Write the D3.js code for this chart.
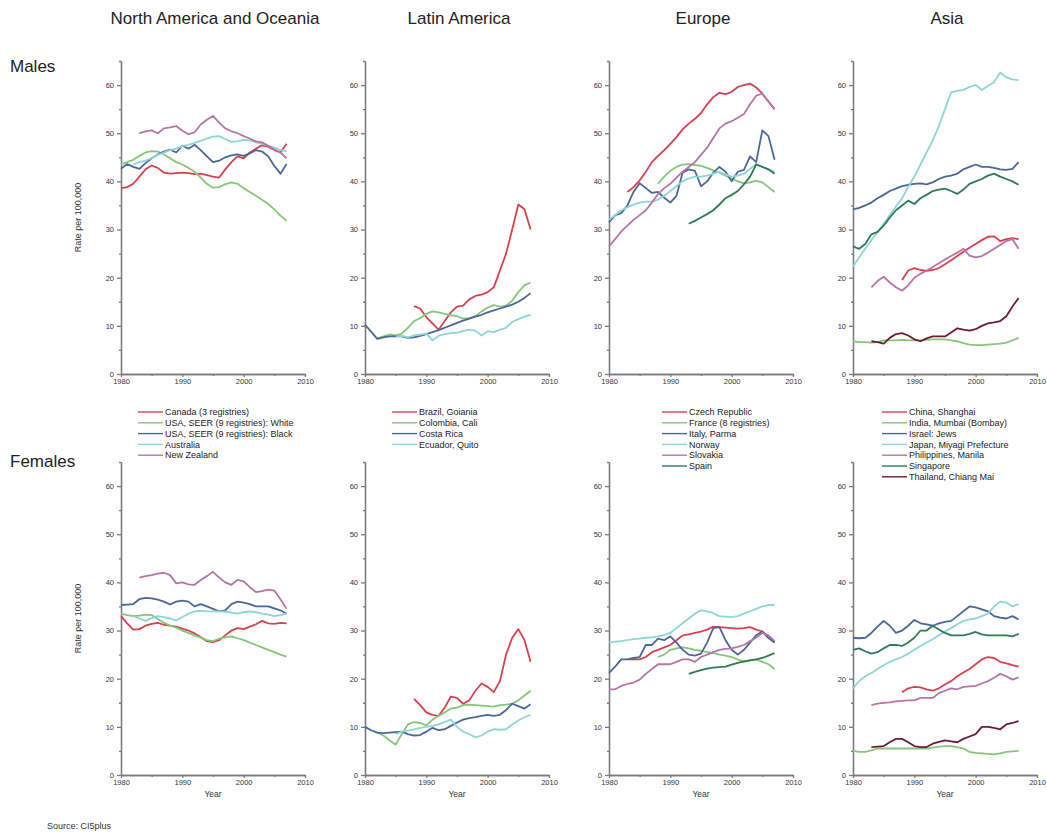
<!DOCTYPE html>
<html>
<head>
<meta charset="utf-8">
<script src="https://cdnjs.cloudflare.com/ajax/libs/d3/7.8.5/d3.min.js"></script>
<style>
body { margin: 0; background: #ffffff; }
svg { font-family: "Liberation Sans", Arial, sans-serif; }
</style>
</head>
<body>
<svg id="chart"></svg>
<script>
var width = 1047;
var height = 833;

// column titles, row labels, legend entries
var regions = ["North America and Oceania", "Latin America", "Europe", "Asia"];
var sexes = ["Males", "Females"];
var namesNA = ["Canada (3 registries)", "USA, SEER (9 registries): White", "USA, SEER (9 registries): Black", "Australia", "New Zealand"];
var namesLA = ["Brazil, Goiania", "Colombia, Cali", "Costa Rica", "Ecuador, Quito"];
var namesEU = ["Czech Republic", "France (8 registries)", "Italy, Parma", "Norway", "Slovakia", "Spain"];
var namesAS = ["China, Shanghai", "India, Mumbai (Bombay)", "Israel: Jews", "Japan, Miyagi Prefecture", "Philippines, Manila", "Singapore", "Thailand, Chiang Mai"];

var xTicks = [1980, 1990, 2000, 2010];
var yTicks = [0, 10, 20, 30, 40, 50, 60];

// ---- Males, [year, rate per 100,000] ----
var canadaM = [[1980,38.6],[1981,38.8],[1982,39.5],[1983,41],[1984,42.5],[1985,43.3],[1986,42.8],[1987,41.8],[1988,41.6],[1989,41.7],[1990,41.8],[1991,41.7],[1992,41.5],[1993,41.6],[1994,41.3],[1995,41],[1996,40.8],[1997,42.5],[1998,44],[1999,45.2],[2000,44.8],[2001,46],[2002,46.8],[2003,47.5],[2004,47.2],[2005,46.5],[2006,46],[2007,47.8]];
var usaWhiteM = [[1980,43.5],[1981,44],[1982,44.5],[1983,45.3],[1984,46],[1985,46.3],[1986,46.2],[1987,45.6],[1988,44.8],[1989,44],[1990,43.5],[1991,42.8],[1992,42],[1993,40.8],[1994,39.5],[1995,38.7],[1996,38.8],[1997,39.4],[1998,39.8],[1999,39.5],[2000,38.6],[2001,37.8],[2002,37],[2003,36.2],[2004,35.3],[2005,34.2],[2006,32.9],[2007,31.8]];
var usaBlackM = [[1980,42.6],[1981,43.6],[1982,43],[1983,42.6],[1984,43.8],[1985,44.8],[1986,45.6],[1987,46.2],[1988,46.6],[1989,46],[1990,47.4],[1991,46.8],[1992,47.6],[1993,46.5],[1994,45.2],[1995,44],[1996,44.3],[1997,45],[1998,45.4],[1999,45.6],[2000,45.3],[2001,45.8],[2002,46.5],[2003,46.2],[2004,45.2],[2005,43.2],[2006,41.6],[2007,43.6]];
var australiaM = [[1982,43.5],[1983,44],[1984,44.3],[1985,44.8],[1986,45.5],[1987,46],[1988,46.5],[1989,46.8],[1990,47.3],[1991,47.6],[1992,48],[1993,48.4],[1994,48.9],[1995,49.3],[1996,49.4],[1997,48.8],[1998,48.2],[1999,48.3],[2000,48.6],[2001,48.5],[2002,48.1],[2003,47.8],[2004,47.4],[2005,47],[2006,46.5],[2007,46.3]];
var nzM = [[1983,50],[1984,50.4],[1985,50.6],[1986,50],[1987,51],[1988,51.2],[1989,51.5],[1990,50.5],[1991,49.8],[1992,50.2],[1993,51.8],[1994,52.8],[1995,53.6],[1996,52.2],[1997,51],[1998,50.4],[1999,50],[2000,49.4],[2001,48.9],[2002,48.3],[2003,48.1],[2004,47.4],[2005,46.6],[2006,46],[2007,44.8]];

var brazilM = [[1988,14.1],[1989,13.6],[1990,11.8],[1991,10.5],[1992,9.2],[1993,11],[1994,12.8],[1995,14],[1996,14.2],[1997,15.5],[1998,16.2],[1999,16.5],[2000,17],[2001,18],[2002,21.5],[2003,25],[2004,30],[2005,35.2],[2006,34.2],[2007,30]];
var colombiaM = [[1982,7.4],[1983,7.8],[1984,8.2],[1985,8],[1986,8.4],[1987,9.6],[1988,11],[1989,11.6],[1990,12.5],[1991,13],[1992,12.8],[1993,12.5],[1994,12.2],[1995,12],[1996,11.5],[1997,11.6],[1998,12],[1999,13],[2000,13.8],[2001,14.3],[2002,14],[2003,14.2],[2004,15.2],[2005,17],[2006,18.4],[2007,19]];
var costaRicaM = [[1980,10.2],[1981,8.8],[1982,7.3],[1983,7.6],[1984,7.8],[1985,7.8],[1986,7.8],[1987,7.5],[1988,7.6],[1989,7.9],[1990,8.3],[1991,8.7],[1992,9.1],[1993,9.6],[1994,10.1],[1995,10.6],[1996,11.1],[1997,11.5],[1998,11.9],[1999,12.3],[2000,12.8],[2001,13.2],[2002,13.6],[2003,14],[2004,14.4],[2005,15],[2006,15.8],[2007,16.8]];
var ecuadorM = [[1985,7.8],[1986,7.9],[1987,7.6],[1988,8],[1989,8.2],[1990,8.4],[1991,7],[1992,7.9],[1993,8.3],[1994,8.5],[1995,8.6],[1996,8.9],[1997,9.2],[1998,9],[1999,8],[2000,8.9],[2001,8.7],[2002,9.2],[2003,9.6],[2004,10.8],[2005,11.4],[2006,11.9],[2007,12.3]];

var czechM = [[1983,37.8],[1984,38.8],[1985,40.2],[1986,42],[1987,44],[1988,45.3],[1989,46.5],[1990,47.8],[1991,49.2],[1992,50.8],[1993,52],[1994,53],[1995,54.2],[1996,56],[1997,57.5],[1998,58.4],[1999,58.1],[2000,58.6],[2001,59.6],[2002,60],[2003,60.3],[2004,59.5],[2005,58.2],[2006,56.6],[2007,55]];
var franceM = [[1988,39.5],[1989,41],[1990,42.2],[1991,43],[1992,43.5],[1993,43.6],[1994,43.4],[1995,43.2],[1996,42.8],[1997,42.3],[1998,41.8],[1999,41.2],[2000,40.6],[2001,40],[2002,39.6],[2003,39.8],[2004,40.1],[2005,39.8],[2006,38.8],[2007,37.8]];
var italyM = [[1980,31.5],[1981,33],[1982,33.4],[1983,35],[1984,37.8],[1985,39.6],[1986,38.6],[1987,37.6],[1988,37.8],[1989,36.6],[1990,35.6],[1991,37],[1992,41.8],[1993,42.5],[1994,42.2],[1995,39],[1996,40],[1997,41.8],[1998,43],[1999,42],[2000,40],[2001,42],[2002,42.4],[2003,45.2],[2004,44],[2005,50.6],[2006,49.4],[2007,44.5]];
var norwayM = [[1980,32],[1981,33],[1982,34],[1983,34.6],[1984,35.2],[1985,35.6],[1986,35.8],[1987,35.8],[1988,36.2],[1989,37],[1990,38],[1991,39],[1992,40],[1993,40.6],[1994,41],[1995,41],[1996,41.2],[1997,41.6],[1998,42],[1999,41.4],[2000,41],[2001,41.2],[2002,41.6],[2003,42.6],[2004,43.6],[2005,43],[2006,42.5],[2007,42]];
var slovakiaM = [[1980,26.5],[1981,28],[1982,29.6],[1983,30.8],[1984,32],[1985,33],[1986,34],[1987,35.6],[1988,37.4],[1989,38.6],[1990,39.5],[1991,40.8],[1992,42],[1993,43],[1994,44],[1995,45.5],[1996,47],[1997,49],[1998,51],[1999,52],[2000,52.5],[2001,53.2],[2002,54],[2003,56],[2004,57.8],[2005,58.2],[2006,56.6],[2007,55]];
var spainM = [[1993,31.2],[1994,31.8],[1995,32.5],[1996,33.2],[1997,34],[1998,35.2],[1999,36.5],[2000,37.2],[2001,38],[2002,39.4],[2003,41],[2004,43.5],[2005,43],[2006,42.5],[2007,41.6]];

var chinaM = [[1988,19.5],[1989,21.5],[1990,22],[1991,21.6],[1992,21.4],[1993,21.6],[1994,22],[1995,22.8],[1996,23.6],[1997,24.5],[1998,25.4],[1999,26.2],[2000,27],[2001,27.8],[2002,28.5],[2003,28.6],[2004,27.6],[2005,28],[2006,28.2],[2007,28]];
var indiaM = [[1980,6.8],[1981,6.6],[1982,6.6],[1983,6.5],[1984,6.6],[1985,7],[1986,7],[1987,7],[1988,7.1],[1989,7],[1990,7],[1991,7],[1992,7.1],[1993,7.2],[1994,7.2],[1995,7.2],[1996,7],[1997,6.8],[1998,6.4],[1999,6.1],[2000,6],[2001,6],[2002,6.1],[2003,6.2],[2004,6.3],[2005,6.5],[2006,7],[2007,7.5]];
var israelM = [[1980,34.2],[1981,34.5],[1982,35],[1983,35.6],[1984,36.5],[1985,37.2],[1986,38],[1987,38.5],[1988,39],[1989,39.3],[1990,39.5],[1991,39.6],[1992,39.4],[1993,39.8],[1994,40.5],[1995,41],[1996,41.2],[1997,41.6],[1998,42.5],[1999,43],[2000,43.5],[2001,43],[2002,43],[2003,42.8],[2004,42.5],[2005,42.4],[2006,42.6],[2007,44]];
var japanM = [[1980,22.3],[1981,24.2],[1982,26],[1983,27.8],[1984,29.5],[1985,31.2],[1986,33],[1987,34.8],[1988,36.5],[1989,38.8],[1990,41],[1991,43.5],[1992,46],[1993,48.5],[1994,51.5],[1995,55],[1996,58.5],[1997,58.8],[1998,59],[1999,59.6],[2000,60],[2001,59],[2002,59.8],[2003,60.6],[2004,62.6],[2005,61.6],[2006,61.2],[2007,61]];
var philippinesM = [[1983,18],[1984,19.3],[1985,20.2],[1986,19],[1987,18],[1988,17.3],[1989,18.4],[1990,20],[1991,20.8],[1992,21.5],[1993,22.2],[1994,23],[1995,23.8],[1996,24.5],[1997,25.2],[1998,26],[1999,24.6],[2000,24.2],[2001,24.5],[2002,25.2],[2003,26],[2004,26.8],[2005,27.6],[2006,28],[2007,26]];
var singaporeM = [[1980,26.5],[1981,26],[1982,27],[1983,29],[1984,29.5],[1985,30.8],[1986,32.5],[1987,34],[1988,35],[1989,36],[1990,35.3],[1991,36.5],[1992,37.2],[1993,38],[1994,38.3],[1995,38.5],[1996,38],[1997,37.4],[1998,38.3],[1999,39.5],[2000,40],[2001,40.5],[2002,41.2],[2003,41.6],[2004,41],[2005,40.5],[2006,40],[2007,39.3]];
var thailandM = [[1983,6.8],[1984,6.6],[1985,6.3],[1986,7.5],[1987,8.3],[1988,8.5],[1989,8],[1990,7.2],[1991,6.8],[1992,7.4],[1993,7.8],[1994,7.8],[1995,7.8],[1996,8.6],[1997,9.5],[1998,9.2],[1999,9],[2000,9.3],[2001,10],[2002,10.5],[2003,10.7],[2004,11],[2005,12],[2006,14],[2007,15.8]];

// ---- Females ----
var canadaF = [[1980,33],[1981,31.5],[1982,30.2],[1983,30.3],[1984,31],[1985,31.4],[1986,31.6],[1987,31.2],[1988,31],[1989,30.8],[1990,30.4],[1991,30],[1992,29.4],[1993,28.6],[1994,27.8],[1995,27.6],[1996,28],[1997,29],[1998,30],[1999,30.5],[2000,30.3],[2001,30.8],[2002,31.3],[2003,32],[2004,31.5],[2005,31.4],[2006,31.6],[2007,31.5]];
var usaWhiteF = [[1980,33.5],[1981,33.2],[1982,33],[1983,33.1],[1984,33.3],[1985,33.2],[1986,32.4],[1987,31.6],[1988,31],[1989,30.6],[1990,30],[1991,29.5],[1992,29],[1993,28.5],[1994,28],[1995,27.8],[1996,28.3],[1997,28.6],[1998,28.8],[1999,28.4],[2000,28],[2001,27.5],[2002,27],[2003,26.5],[2004,26],[2005,25.5],[2006,25],[2007,24.6]];
var usaBlackF = [[1980,35.3],[1981,35.4],[1982,35.5],[1983,36.5],[1984,36.8],[1985,36.7],[1986,36.4],[1987,36],[1988,35.4],[1989,36],[1990,36.2],[1991,36],[1992,35],[1993,35.5],[1994,35],[1995,34.5],[1996,34],[1997,34.2],[1998,35.5],[1999,36],[2000,35.8],[2001,35.5],[2002,35],[2003,35],[2004,35],[2005,34.6],[2006,34.2],[2007,33.5]];
var australiaF = [[1982,33],[1983,32.5],[1984,32],[1985,32.6],[1986,33],[1987,32.8],[1988,32.5],[1989,32.1],[1990,32.8],[1991,33.5],[1992,34],[1993,34.1],[1994,34],[1995,34],[1996,34],[1997,33.9],[1998,33.7],[1999,33.5],[2000,33.8],[2001,34],[2002,33.8],[2003,33.5],[2004,33.3],[2005,33],[2006,33.2],[2007,33.5]];
var nzF = [[1983,41],[1984,41.3],[1985,41.5],[1986,41.8],[1987,42],[1988,41.5],[1989,39.8],[1990,40],[1991,39.6],[1992,39.5],[1993,40.5],[1994,41.3],[1995,42.2],[1996,41],[1997,40],[1998,39.5],[1999,40.5],[2000,40.2],[2001,39],[2002,38],[2003,38.2],[2004,38.5],[2005,38.3],[2006,36.5],[2007,34.5]];

var brazilF = [[1988,15.8],[1989,14.5],[1990,13],[1991,12.5],[1992,12.3],[1993,14],[1994,16.3],[1995,16],[1996,14.8],[1997,15.5],[1998,17.5],[1999,19],[2000,18.3],[2001,17.2],[2002,19.5],[2003,25],[2004,28.5],[2005,30.3],[2006,28],[2007,23.5]];
var colombiaF = [[1982,8.8],[1983,8.2],[1984,7.2],[1985,6.3],[1986,8.5],[1987,10.5],[1988,11],[1989,10.8],[1990,10.3],[1991,11.5],[1992,12.3],[1993,13],[1994,13.8],[1995,14],[1996,14.5],[1997,14.6],[1998,14.5],[1999,14.4],[2000,14.3],[2001,14.2],[2002,14.5],[2003,14.6],[2004,14.8],[2005,15.5],[2006,16.5],[2007,17.5]];
var costaRicaF = [[1980,10],[1981,9.3],[1982,8.8],[1983,8.7],[1984,8.8],[1985,8.9],[1986,9],[1987,8.5],[1988,8.2],[1989,8.3],[1990,9],[1991,9.8],[1992,9.3],[1993,9.5],[1994,10.2],[1995,10.9],[1996,11.5],[1997,11.8],[1998,12],[1999,12.3],[2000,12.5],[2001,12.3],[2002,12.5],[2003,13.5],[2004,14.8],[2005,14.3],[2006,13.8],[2007,14.7]];
var ecuadorF = [[1985,8.5],[1986,9],[1987,9.2],[1988,9.5],[1989,9.8],[1990,10],[1991,10.2],[1992,10.5],[1993,11],[1994,11.5],[1995,10],[1996,9],[1997,8.5],[1998,7.8],[1999,8.2],[2000,9],[2001,9.5],[2002,9.4],[2003,9.5],[2004,10.5],[2005,11.3],[2006,12],[2007,12.5]];

var czechF = [[1983,24],[1984,24],[1985,24],[1986,24.5],[1987,25.5],[1988,26],[1989,26.5],[1990,27],[1991,28],[1992,29],[1993,29.2],[1994,29.5],[1995,29.8],[1996,30.2],[1997,30.8],[1998,30.7],[1999,30.6],[2000,30.5],[2001,30.4],[2002,30.5],[2003,30.7],[2004,30.2],[2005,29.8],[2006,28.5],[2007,27.5]];
var franceF = [[1988,24.5],[1989,25],[1990,26],[1991,26.3],[1992,26.5],[1993,26.3],[1994,26],[1995,25.8],[1996,25.5],[1997,25.3],[1998,25],[1999,24.8],[2000,24.5],[2001,24],[2002,23.5],[2003,23.8],[2004,24],[2005,23.5],[2006,23],[2007,22]];
var italyF = [[1980,21.2],[1981,22.5],[1982,24],[1983,24],[1984,24.3],[1985,24.5],[1986,27],[1987,27],[1988,28.3],[1989,28],[1990,28.8],[1991,27.5],[1992,26],[1993,25],[1994,24.8],[1995,25.2],[1996,27.5],[1997,30.5],[1998,30.7],[1999,28],[2000,26],[2001,25],[2002,26],[2003,27.5],[2004,29],[2005,29.8],[2006,28.5],[2007,27.5]];
var norwayF = [[1980,27.5],[1981,27.7],[1982,27.8],[1983,28],[1984,28.2],[1985,28.3],[1986,28.5],[1987,28.6],[1988,28.8],[1989,29.1],[1990,29.5],[1991,30.5],[1992,31.5],[1993,32.5],[1994,33.5],[1995,34.2],[1996,34],[1997,33.6],[1998,33],[1999,32.9],[2000,32.8],[2001,33],[2002,33.5],[2003,34],[2004,34.5],[2005,35],[2006,35.3],[2007,35.3]];
var slovakiaF = [[1980,17.8],[1981,17.8],[1982,18.5],[1983,18.9],[1984,19.2],[1985,19.8],[1986,21],[1987,22],[1988,23],[1989,23],[1990,23],[1991,23.5],[1992,24],[1993,24],[1994,23.5],[1995,24.5],[1996,25],[1997,25.5],[1998,26],[1999,26.2],[2000,26.3],[2001,26.6],[2002,27],[2003,27.8],[2004,28.5],[2005,29.5],[2006,29],[2007,27.8]];
var spainF = [[1993,21],[1994,21.4],[1995,21.8],[1996,22.1],[1997,22.3],[1998,22.4],[1999,22.5],[2000,22.9],[2001,23.3],[2002,23.6],[2003,23.8],[2004,24],[2005,24.3],[2006,24.8],[2007,25.3]];

var chinaF = [[1988,17.2],[1989,18],[1990,18.3],[1991,18.2],[1992,17.8],[1993,17.5],[1994,18],[1995,18.8],[1996,19.5],[1997,20.5],[1998,21.3],[1999,22],[2000,23],[2001,24],[2002,24.5],[2003,24.3],[2004,23.5],[2005,23.2],[2006,22.8],[2007,22.5]];
var indiaF = [[1980,5],[1981,4.8],[1982,4.8],[1983,5.1],[1984,5.5],[1985,5.5],[1986,5.5],[1987,5.5],[1988,5.5],[1989,5.5],[1990,5.5],[1991,5.5],[1992,5.5],[1993,5.7],[1994,5.9],[1995,6],[1996,6],[1997,5.8],[1998,5.5],[1999,4.8],[2000,4.6],[2001,4.5],[2002,4.4],[2003,4.3],[2004,4.5],[2005,4.8],[2006,4.9],[2007,5]];
var israelF = [[1980,28.5],[1981,28.4],[1982,28.5],[1983,29.5],[1984,30.8],[1985,32],[1986,31],[1987,29.5],[1988,30],[1989,31],[1990,32.2],[1991,31.5],[1992,31.3],[1993,31],[1994,31.5],[1995,31.8],[1996,32],[1997,33],[1998,34],[1999,35],[2000,34.8],[2001,34.4],[2002,34],[2003,33],[2004,32.7],[2005,32.5],[2006,33],[2007,32.3]];
var japanF = [[1980,18],[1981,19.5],[1982,20.5],[1983,21.2],[1984,22],[1985,22.8],[1986,23.5],[1987,24],[1988,24.5],[1989,25.2],[1990,26],[1991,26.8],[1992,27.5],[1993,28.2],[1994,29],[1995,29.8],[1996,30.5],[1997,31.3],[1998,32],[1999,32.3],[2000,32.5],[2001,33],[2002,33.5],[2003,35],[2004,36],[2005,35.8],[2006,35],[2007,35.5]];
var philippinesF = [[1983,14.5],[1984,14.8],[1985,15],[1986,15.1],[1987,15.3],[1988,15.4],[1989,15.5],[1990,15.5],[1991,16],[1992,16],[1993,16],[1994,17],[1995,17.5],[1996,18],[1997,17.8],[1998,18.3],[1999,18.4],[2000,18.5],[2001,19],[2002,19.5],[2003,20.2],[2004,21],[2005,20.5],[2006,19.8],[2007,20.3]];
var singaporeF = [[1980,26],[1981,26.3],[1982,25.7],[1983,25.2],[1984,25.5],[1985,26.3],[1986,27],[1987,27],[1988,26.8],[1989,27.5],[1990,28.5],[1991,30],[1992,30],[1993,31],[1994,30.2],[1995,29.5],[1996,29],[1997,29],[1998,29],[1999,29.3],[2000,29.7],[2001,29.2],[2002,29],[2003,29],[2004,29],[2005,29],[2006,28.8],[2007,29.3]];
var thailandF = [[1983,5.8],[1984,5.9],[1985,6],[1986,6.8],[1987,7.5],[1988,7.5],[1989,6.8],[1990,6],[1991,5.8],[1992,5.8],[1993,6.5],[1994,6.9],[1995,7.2],[1996,7],[1997,6.8],[1998,7.5],[1999,8],[2000,8.5],[2001,10],[2002,10],[2003,9.8],[2004,9.5],[2005,10.5],[2006,10.8],[2007,11.2]];

var legendNames = [namesNA, namesLA, namesEU, namesAS];
var maleSeries = [
	[canadaM, usaWhiteM, usaBlackM, australiaM, nzM],
	[brazilM, colombiaM, costaRicaM, ecuadorM],
	[czechM, franceM, italyM, norwayM, slovakiaM, spainM],
	[chinaM, indiaM, israelM, japanM, philippinesM, singaporeM, thailandM]
];
var femaleSeries = [
	[canadaF, usaWhiteF, usaBlackF, australiaF, nzF],
	[brazilF, colombiaF, costaRicaF, ecuadorF],
	[czechF, franceF, italyF, norwayF, slovakiaF, spainF],
	[chinaF, indiaF, israelF, japanF, philippinesF, singaporeF, thailandF]
];

// same colour order in every column
var palette = ["#d9404e", "#86c67a", "#4b6799", "#8dd5d6", "#b774a6", "#2e7b55", "#6c1d36"];

// layout
var colX = [121, 365, 609, 853];
var panelW = 184;
var rowBase = [374, 775];
var panelH = 313;
var legendOffset = [17, 27, 53, 29];
var legendTop = 412;
var legendStep = 10.8;

var svg = d3.select("#chart")
.attr("width", width)
.attr("height", height);

regions.forEach(function (name, c) {
	svg.append("text")
	.attr("x", colX[c] + panelW / 2 + 2)
	.attr("y", 24)
	.style("font-size", "17px")
	.style("fill", "#222")
	.style("text-anchor", "middle")
	.text(name);
});

svg.append("text")
.attr("x", 10).attr("y", 72)
.style("font-size", "17px").style("fill", "#222")
.text(sexes[0]);

svg.append("text")
.attr("x", 10).attr("y", 467)
.style("font-size", "17px").style("fill", "#222")
.text(sexes[1]);

function drawPanel(row, c, series) {
	var x = d3.scaleLinear().domain([1980, 2010]).range([colX[c], colX[c] + panelW]);
	var y = d3.scaleLinear().domain([0, 65]).range([rowBase[row], rowBase[row] - panelH]);
	var g = svg.append("g");

	// minor ticks first, then labelled ones
	g.append("g")
	.attr("class", "axis")
	.attr("transform", "translate(0," + rowBase[row] + ")")
	.call(d3.axisBottom(x).tickValues([1985, 1995, 2005]).tickSize(2).tickSizeOuter(0).tickFormat(""));
	g.append("g")
	.attr("class", "axis")
	.attr("transform", "translate(0," + rowBase[row] + ")")
	.call(d3.axisBottom(x).tickValues(xTicks).tickSize(3).tickSizeOuter(0).tickPadding(2).tickFormat(d3.format("d")));

	g.append("g")
	.attr("class", "axis")
	.attr("transform", "translate(" + colX[c] + ",0)")
	.call(d3.axisLeft(y).tickValues([5, 15, 25, 35, 45, 55, 65]).tickSize(2).tickSizeOuter(0).tickFormat(""));
	g.append("g")
	.attr("class", "axis")
	.attr("transform", "translate(" + colX[c] + ",0)")
	.call(d3.axisLeft(y).tickValues(yTicks).tickSize(4).tickSizeOuter(0).tickPadding(3));

	var line = d3.line()
	.x(function (d) { return x(d[0]); })
	.y(function (d) { return y(d[1]); });

	g.selectAll("path.series")
	.data(series)
	.enter().append("path")
	.attr("class", "series")
	.attr("d", line)
	.style("fill", "none")
	.style("stroke", function (d, i) { return palette[i]; })
	.style("stroke-width", 1.8)
	.style("stroke-linejoin", "round");

	if (c == 0) {
		svg.append("text")
		.attr("transform", "translate(81," + y(32.5) + ") rotate(-90)")
		.style("font-size", "9px")
		.style("fill", "#333")
		.style("text-anchor", "middle")
		.text("Rate per 100,000");
	}
	if (row == 1) {
		svg.append("text")
		.attr("x", x(1995))
		.attr("y", rowBase[row] + 22)
		.style("font-size", "8.5px")
		.style("fill", "#333")
		.style("text-anchor", "middle")
		.text("Year");
	}
}

maleSeries.forEach(function (s, c) { drawPanel(0, c, s); });
femaleSeries.forEach(function (s, c) { drawPanel(1, c, s); });

svg.selectAll(".axis path, .axis line")
.style("stroke", "#7a7a7a")
.style("stroke-width", 1.3);
svg.selectAll(".axis text")
.style("font-size", "7.5px")
.style("fill", "#333")
.style("font-family", "'Liberation Sans', Arial, sans-serif");

// legends under the male row
legendNames.forEach(function (names, c) {
	var lg = svg.append("g")
	.attr("transform", "translate(" + (colX[c] + legendOffset[c]) + "," + legendTop + ")");
	var item = lg.selectAll("g")
	.data(names)
	.enter().append("g")
	.attr("transform", function (d, i) { return "translate(0," + (i * legendStep) + ")"; });
	item.append("line")
	.attr("x1", 0).attr("x2", 25)
	.style("stroke", function (d, i) { return palette[i]; })
	.style("stroke-width", 1.4);
	item.append("text")
	.attr("x", 27)
	.attr("dy", "0.35em")
	.style("font-size", "9px")
	.style("fill", "#222")
	.text(function (d) { return d; });
});

svg.append("text")
.attr("x", 47).attr("y", 829)
.style("font-size", "9px").style("fill", "#333")
.text("Source: CI5plus");
</script>
</body>
</html>
